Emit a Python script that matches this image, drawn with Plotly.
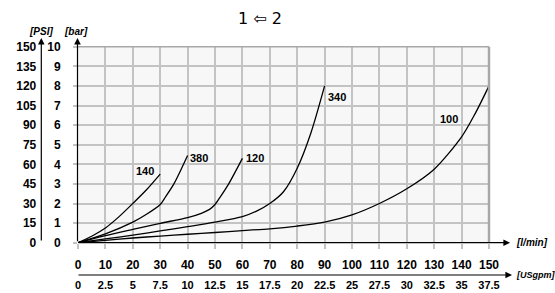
import plotly.graph_objects as go

# ---- data (flow in l/min, pressure drop in bar) ----
flow_140 = [0, 5, 10, 15, 20, 25, 30]
dp_140 = [0, 0.33, 0.75, 1.33, 2.0, 2.7, 3.5]

flow_380 = [0, 10, 20, 25, 30, 32, 35, 40]
dp_380 = [0, 0.45, 1.05, 1.45, 1.95, 2.35, 3.0, 4.45]

flow_120 = [0, 10, 20, 30, 40, 45, 48, 50, 52, 55, 60]
dp_120 = [0, 0.36, 0.68, 0.99, 1.28, 1.5, 1.7, 1.95, 2.35, 3.0, 4.3]

flow_340 = [0, 10, 20, 30, 40, 50, 60, 65, 70, 75, 80, 85, 90]
dp_340 = [0, 0.19, 0.39, 0.6, 0.82, 1.05, 1.33, 1.6, 2.0, 2.6, 3.8, 5.6, 8.0]

flow_100 = [0, 10, 20, 30, 40, 50, 60, 70, 80, 90, 100, 110, 120, 130, 140, 145, 150]
dp_100 = [0, 0.12, 0.24, 0.34, 0.43, 0.52, 0.62, 0.71, 0.85, 1.05, 1.42, 2.0, 2.75, 3.75, 5.4, 6.6, 8.0]

series_names = ["140", "380", "120", "340", "100"]

lmin_ticks = [0, 10, 20, 30, 40, 50, 60, 70, 80, 90, 100, 110, 120, 130, 140, 150]
usgpm_ticks = [0, 2.5, 5, 7.5, 10, 12.5, 15, 17.5, 20, 22.5, 25, 27.5, 30, 32.5, 35, 37.5]
bar_ticks = [0, 1, 2, 3, 4, 5, 6, 7, 8, 9, 10]
psi_ticks = [0, 15, 30, 45, 60, 75, 90, 105, 120, 135, 150]

W, H = 555, 293
# pixel geometry
PX_L, PX_R = 78, 489
PY_T, PY_B = 46.7, 242.7


def px(x):
    return x / W


def py(y):
    return (H - y) / H


FONT = "Liberation Sans, Arial, DejaVu Sans"
BOLD12 = dict(family=FONT, size=12, color="black", weight="bold")
GRID = "#c3c3c3"

fig = go.Figure()
for fx, fy, nm in [(flow_140, dp_140, "140"), (flow_380, dp_380, "380"),
                   (flow_120, dp_120, "120"), (flow_340, dp_340, "340"),
                   (flow_100, dp_100, "100")]:
    fig.add_trace(go.Scatter(x=fx, y=fy, mode="lines", name=nm,
                             line=dict(color="black", width=1.3, shape="spline", smoothing=0.8),
                             showlegend=False, hoverinfo="skip"))

# invisible helper traces so secondary axes render
fig.add_trace(go.Scatter(x=usgpm_ticks, y=[0] * len(usgpm_ticks), xaxis="x2", yaxis="y",
                         mode="markers", marker=dict(opacity=0), showlegend=False, hoverinfo="skip"))
fig.add_trace(go.Scatter(x=[0] * len(psi_ticks), y=psi_ticks, xaxis="x", yaxis="y2",
                         mode="markers", marker=dict(opacity=0), showlegend=False, hoverinfo="skip"))

dom_x = [px(PX_L), px(PX_R)]
dom_y = [py(PY_B), py(PY_T)]

fig.update_layout(
    width=W, height=H,
    margin=dict(l=0, r=0, t=0, b=0, autoexpand=False),
    paper_bgcolor="white",
    plot_bgcolor="#f7f7f7",
    xaxis=dict(domain=dom_x, range=[0, 150], tickvals=lmin_ticks,
               ticktext=[str(v) for v in lmin_ticks], automargin=False,
               showgrid=True, gridcolor=GRID, gridwidth=1.5,
               ticks="outside", ticklen=5, tickcolor=GRID, tickwidth=1.5,
               tickfont=BOLD12, ticklabelstandoff=6,
               showline=False, zeroline=False, fixedrange=True),
    xaxis2=dict(domain=dom_x, range=[0, 37.5], overlaying="x", anchor="free",
                position=py(275), side="bottom", tickvals=usgpm_ticks,
                ticktext=[("%g" % v) for v in usgpm_ticks], automargin=False,
                showgrid=False, zeroline=False, showline=False, ticks="",
                tickfont=dict(family=FONT, size=11, color="black", weight="bold"),
                ticklabelstandoff=2),
    yaxis=dict(domain=dom_y, range=[0, 10], tickvals=bar_ticks,
               ticktext=[str(v) for v in bar_ticks], automargin=False,
               showgrid=True, gridcolor=GRID, gridwidth=1.5,
               ticks="outside", ticklen=4, tickcolor=GRID, tickwidth=1.5,
               tickfont=BOLD12, ticklabelstandoff=10,
               showline=False, zeroline=False, fixedrange=True),
    yaxis2=dict(domain=dom_y, range=[0, 150], overlaying="y", anchor="free",
                position=px(41.3), side="left", tickvals=psi_ticks,
                ticktext=[str(v) for v in psi_ticks], automargin=False,
                showgrid=False, zeroline=False, showline=False, ticks="",
                tickfont=BOLD12, ticklabelstandoff=5),
)

# plot border (top/right gray)
fig.add_shape(type="line", xref="paper", yref="paper", x0=px(PX_L), x1=px(PX_R),
              y0=py(PY_T), y1=py(PY_T), line=dict(color="#a8a8a8", width=1.5))
fig.add_shape(type="line", xref="paper", yref="paper", x0=px(PX_R), x1=px(PX_R),
              y0=py(PY_T), y1=py(PY_B), line=dict(color="#a8a8a8", width=2.5))

# axis arrows
def arrow(tip_x, tip_y, ax, ay):
    fig.add_annotation(x=px(tip_x), y=py(tip_y), xref="paper", yref="paper",
                       text="", showarrow=True, ax=ax, ay=ay,
                       arrowhead=2, arrowsize=1.1, arrowwidth=1.2, arrowcolor="black")

arrow(510, PY_B, -(510 - PX_L + 1), 0)        # l/min axis
arrow(512, 275, -(512 - PX_L + 1), 0)         # USgpm axis
arrow(PX_L - 0.5, 38, 0, PY_B - 38)           # bar axis
arrow(41.3, 38, 0, 242 - 38)                  # PSI axis

def text(x, y, s, size=11, bold=True, italic=False, xanchor="center", family=FONT):
    fig.add_annotation(x=px(x), y=py(y), xref="paper", yref="paper", text=s,
                       showarrow=False, xanchor=xanchor, yanchor="middle",
                       font=dict(family=family, size=size, color="black",
                                 weight="bold" if bold else "normal",
                                 style="italic" if italic else "normal"))

text(260, 19, "1 \u21e6 2", size=16, bold=False, family="DejaVu Sans, Liberation Sans")
text(40.5, 31, "[PSI]", size=10, italic=True)
text(75.5, 31, "[bar]", size=10, italic=True)
text(514, 242.5, "[l/min]", size=10, italic=True, xanchor="left")
text(514, 274.5, "[USgpm]", size=9, italic=True, xanchor="left")

# curve labels (placed in data coordinates)
for nm, lx, ly in [("140", 24.3, 3.66), ("380", 44.2, 4.32), ("120", 64.6, 4.32),
                   ("340", 94.7, 7.43), ("100", 135.4, 6.31)]:
    fig.add_annotation(x=lx, y=ly, xref="x", yref="y", text=nm, showarrow=False,
                       font=dict(family=FONT, size=11, color="black", weight="bold"))

fig.write_html("out.html", config={"displayModeBar": False},
               post_script="document.body.style.margin='0';")
